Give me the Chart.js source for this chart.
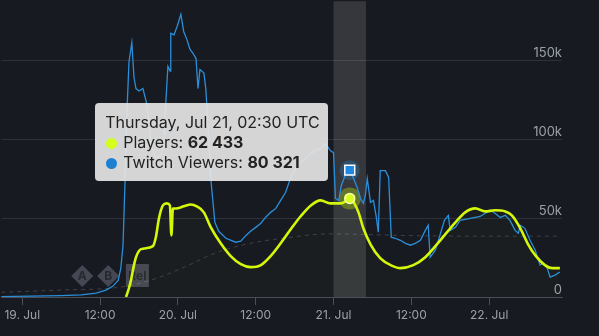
<!DOCTYPE html>
<html>
<head>
<meta charset="utf-8">
<script src="https://cdn.jsdelivr.net/npm/chart.js@4.4.1/dist/chart.umd.min.js"></script>
<style>
  html, body { margin: 0; padding: 0; background: #171a21; }
  #wrap { position: relative; width: 599px; height: 336px; }
  #tip {
    position: absolute; box-sizing: border-box; width: 233px; height: 78px;
    padding: 9px 0 0 10px; border-radius: 4px;
    background: rgba(228, 228, 228, 0.93); color: #222;
    font: 16px Inter, "Noto Sans", sans-serif; line-height: 20px;
    white-space: nowrap; pointer-events: none; opacity: 0;
  }
  #tip .dot { display: inline-block; width: 11px; height: 11px; border-radius: 50%; margin: 0 6px 0 1px; vertical-align: -1px; }
  #tip b { font-weight: 700; }
</style>
</head>
<body>
<div id="wrap">
  <canvas id="myChart"></canvas>
  <div id="tip"></div>
</div>
<script>
// hours are counted from 19 Jul 2022 00:00 UTC
const playerHours = [16.0, 16.46, 16.77, 17.23, 17.54, 18.31, 20.15, 20.6, 21.08, 21.69, 22.3, 22.77, 23.0, 23.23, 23.69,
  24.92, 26.0, 26.92, 28.0, 29.08, 30.6, 32.15, 33.7, 35.2, 36.8, 38.3, 39.85, 41.4, 42.9, 44.5, 46.0, 47.5, 49.1, 49.85,
  50.5, 51.2, 51.85, 52.6, 53.7, 55.2, 56.8, 58.3, 60.3, 62.15, 64.46, 66.8, 68.3, 69.85, 71.4, 72.9, 74.5, 75.5, 76.8,
  78.0, 79.1, 80.6, 81.7, 82.9];
const playerValues = [0, 5700, 10700, 20200, 25200, 30300, 32200, 37800, 49800, 58000, 59300, 58000, 39000, 56000, 56000,
  57400, 58600, 57400, 53600, 44100, 34000, 25900, 20800, 18900, 20200, 25900, 34000, 42900, 51000, 58000, 61200, 59300, 59300, 60500,
  62433, 59300, 53600, 43500, 33400, 24600, 20200, 18300, 20200, 25200, 35900, 47300, 53600, 56100, 54200, 54900, 54200, 51700, 43500,
  33400, 26500, 20200, 18300, 18300];

const twitchHours = [-3.23, 1.38, 6.0, 9.1, 11.4, 12.9, 14.0, 14.8, 15.2, 15.54, 15.85, 16.15, 16.46, 16.9, 17.23, 17.54, 18.0,
  18.6, 19.1, 19.4, 19.85, 20.6, 21.4, 21.85, 22.15, 22.46, 22.8, 22.9, 23.4, 23.85, 24.46, 24.9, 25.4, 25.85, 26.3, 26.8, 27.1,
  27.4, 28.0, 28.3, 28.6, 29.1, 29.7, 30.3, 31.4, 32.9, 33.7, 34.5, 35.2, 36.0, 36.8, 37.5, 38.3, 39.1, 39.85, 40.6, 41.4, 42.15,
  42.9, 43.7, 44.5, 45.2, 46.0, 46.8, 47.5, 48.0, 48.3, 48.8, 49.2, 49.85, 50.5, 51.1, 51.7, 52.15, 52.6, 52.9, 53.2, 53.7, 54.15,
  54.6, 54.9, 55.2, 56.0, 56.5, 56.9, 57.5, 58.3, 59.1, 59.85, 60.6, 61.4, 62.15, 62.6, 62.9, 63.7, 64.5, 65.1, 65.7, 66.0, 66.8,
  67.5, 69.1, 70.6, 72.15, 72.9, 73.7, 74.5, 75.2, 76.0, 76.5, 76.8, 77.5, 78.3, 79.1, 79.85, 80.3, 80.9, 81.4, 82.15, 82.9];
const twitchValues = [300, 600, 900, 1300, 2500, 4400, 6900, 10700, 18300, 32800, 73800, 118000, 149000, 161000, 139000, 132000, 130500,
  132000, 124000, 116600, 96000, 88000, 90000, 98000, 124000, 146000, 143000, 167000, 166000, 171000, 179000, 168000, 163000, 157000, 154500, 151000, 132000,
  144000, 142000, 132000, 111600, 73800, 47300, 41600, 37200, 34700, 35300, 39000, 41600, 44100, 46700, 50400, 53600, 56100, 61200, 66200, 75700, 81300,
  85100, 87600, 90800, 92700, 94000, 97000, 92700, 91400, 62400, 61200, 70600, 77600, 80321, 75000, 68700, 62400, 59300, 64300, 75000, 59900, 61200,
  50400, 41000, 80000, 80000, 75700, 37800, 37200, 35900, 34000, 32800, 34000, 35900, 42200, 45400, 25200, 29600, 40400, 48500, 51700, 42200, 44100,
  48500, 49800, 51000, 54900, 53000, 50400, 51700, 48500, 42200, 40400, 45400, 43500, 35900, 29600, 20200, 21400, 18900, 12600, 13900, 15800];

const avgHours = [-3.23, 6.0, 15.2, 19.85, 24.5, 29.85, 35.2, 39.85, 47.5, 58.3, 70.6, 82.9];
const avgValues = [3000, 4400, 6300, 10700, 18000, 28000, 34000, 37000, 40000, 39000, 38500, 38500];

const xTicks = [0, 12, 24, 36, 48, 60, 72];
const yTicks = [0, 50000, 100000, 150000];
const flagLabels = ['A', 'B', 'Rel'];
const flagHours = [9.25, 13.25, 17.75];
const bandFrom = 48, bandTo = 53;
const hoverHour = 50.5;

const pts = (hs, vs) => hs.map((h, i) => ({ x: h, y: vs[i] }));
const spaced = (n) => String(n).replace(/\B(?=(\d{3})+(?!\d))/g, ' ');
const days = ['Sunday', 'Monday', 'Tuesday', 'Wednesday', 'Thursday', 'Friday', 'Saturday'];
const months = ['Jan', 'Feb', 'Mar', 'Apr', 'May', 'Jun', 'Jul', 'Aug', 'Sep', 'Oct', 'Nov', 'Dec'];
const pad = (n) => String(n).padStart(2, '0');
const stamp = (h) => {
  const d = new Date(Date.UTC(2022, 6, 19) + h * 3600e3);
  return `${days[d.getUTCDay()]}, ${months[d.getUTCMonth()]} ${d.getUTCDate()}, ${pad(d.getUTCHours())}:${pad(d.getUTCMinutes())} UTC`;
};

// band, flags and point halos
const extras = {
  id: 'extras',
  beforeDatasetsDraw(chart) {
    const { ctx, chartArea: a, scales: { x } } = chart;
    ctx.save();
    ctx.fillStyle = 'rgba(255,255,255,0.13)';
    const b0 = x.getPixelForValue(bandFrom), b1 = x.getPixelForValue(bandTo);
    ctx.fillRect(b0, a.top, b1 - b0, a.bottom - a.top);

    const fy = a.bottom - 21;
    ctx.font = 'bold 12px Inter, sans-serif';
    ctx.textAlign = 'center';
    ctx.textBaseline = 'middle';
    flagLabels.forEach((lbl, i) => {
      const fx = x.getPixelForValue(flagHours[i]);
      ctx.fillStyle = 'rgba(100,104,116,0.6)';
      if (lbl.length > 1) {
        ctx.fillRect(fx - 11.5, fy - 12, 23, 23);
      } else {
        ctx.beginPath();
        ctx.moveTo(fx, fy - 11); ctx.lineTo(fx + 11, fy); ctx.lineTo(fx, fy + 11); ctx.lineTo(fx - 11, fy);
        ctx.closePath(); ctx.fill();
      }
      ctx.fillStyle = '#262930';
      ctx.fillText(lbl, fx, fy + 0.5);
    });

    const halo = ['rgba(212,255,0,0.3)', 'rgba(42,143,219,0.28)'];
    chart.getActiveElements().forEach(({ datasetIndex, element }) => {
      ctx.fillStyle = halo[datasetIndex];
      ctx.beginPath();
      ctx.arc(element.x, element.y, datasetIndex === 0 ? 11 : 10, 0, Math.PI * 2);
      ctx.fill();
    });
    ctx.restore();
  }
};

const tipEl = document.getElementById('tip');
const drawTip = ({ tooltip }) => {
  if (!tooltip.opacity) { tipEl.style.opacity = 0; return; }
  const rows = tooltip.dataPoints.map(p => {
    const c = p.datasetIndex === 0 ? '#d4ff1a' : '#1e80d2';
    return `<div><span class="dot" style="background:${c}"></span>${p.dataset.label}: <b>${spaced(p.parsed.y)}</b></div>`;
  });
  tipEl.innerHTML = `<div>${stamp(tooltip.dataPoints[0].parsed.x)}</div>` + rows.join('');
  tipEl.style.left = (tooltip.caretX - 254) + 'px';
  tipEl.style.top = '103px';
  tipEl.style.opacity = 1;
};

const chart = new Chart(document.getElementById('myChart'), {
  type: 'line',
  data: {
    datasets: [
      {
        label: 'Players',
        data: pts(playerHours, playerValues),
        borderColor: '#d4f70a',
        borderWidth: 2.6,
        cubicInterpolationMode: 'monotone',
        fill: 'origin',
        backgroundColor: 'rgba(200,255,0,0.018)',
        pointRadius: 0,
        pointHoverRadius: 5,
        pointHoverBackgroundColor: '#d8ff1f',
        pointHoverBorderColor: '#f0ffb0',
        pointHoverBorderWidth: 1.5
      },
      {
        label: 'Twitch Viewers',
        data: pts(twitchHours, twitchValues),
        borderColor: '#2a8fdb',
        borderWidth: 1.3,
        tension: 0,
        pointRadius: 0,
        pointStyle: 'rect',
        pointHoverRadius: 7,
        pointHoverBackgroundColor: '#1e88e5',
        pointHoverBorderColor: '#ffffff',
        pointHoverBorderWidth: 1.5
      },
      {
        label: 'Average',
        data: pts(avgHours, avgValues),
        borderColor: 'rgba(255,255,255,0.17)',
        borderWidth: 1,
        borderDash: [4, 4],
        cubicInterpolationMode: 'monotone',
        pointRadius: 0,
        pointHoverRadius: 0
      }
    ]
  },
  options: {
    responsive: true,
    maintainAspectRatio: false,
    animation: false,
    events: [],
    layout: { padding: 0 },
    plugins: {
      legend: { display: false },
      tooltip: {
        enabled: false,
        external: drawTip,
        filter: (item) => item.datasetIndex < 2
      }
    },
    scales: {
      x: {
        type: 'linear',
        min: -3.23,
        max: 83.23,
        afterBuildTicks: (scale) => { scale.ticks = xTicks.map(value => ({ value })); },
        afterFit: (scale) => { scale.height = 39; scale.paddingLeft = 0; scale.paddingRight = 0; },
        grid: { display: true, drawOnChartArea: false, drawTicks: true, tickLength: 8, color: '#4b4f58' },
        border: { display: true, color: '#4b4f58' },
        ticks: {
          autoSkip: false,
          maxRotation: 0,
          padding: 3,
          color: '#9ca1a9',
          font: { family: 'Inter', size: 12 },
          callback: (v) => v % 24 === 0 ? `${19 + v / 24}. Jul` : '12:00'
        }
      },
      y: {
        position: 'right',
        min: 0,
        max: 187264,
        afterBuildTicks: (scale) => { scale.ticks = yTicks.map(value => ({ value })); },
        afterFit: (scale) => { scale.width = 37; scale.paddingTop = 0; scale.paddingBottom = 0; },
        grid: { color: 'rgba(255,255,255,0.1)', drawTicks: false },
        border: { display: false },
        ticks: {
          mirror: true,
          padding: 0,
          labelOffset: -7,
          color: '#9ca1a9',
          font: { family: 'Inter', size: 13 },
          callback: (v) => v === 0 ? '0' : (v / 1000) + 'k'
        }
      }
    }
  },
  plugins: [extras]
});

// show the 02:30 reading on 21 Jul
const active = [
  { datasetIndex: 0, index: playerHours.indexOf(hoverHour) },
  { datasetIndex: 1, index: twitchHours.indexOf(hoverHour) }
];
chart.setActiveElements(active);
chart.tooltip.setActiveElements(active, { x: 349, y: 180 });
chart.update();
</script>
</body>
</html>
